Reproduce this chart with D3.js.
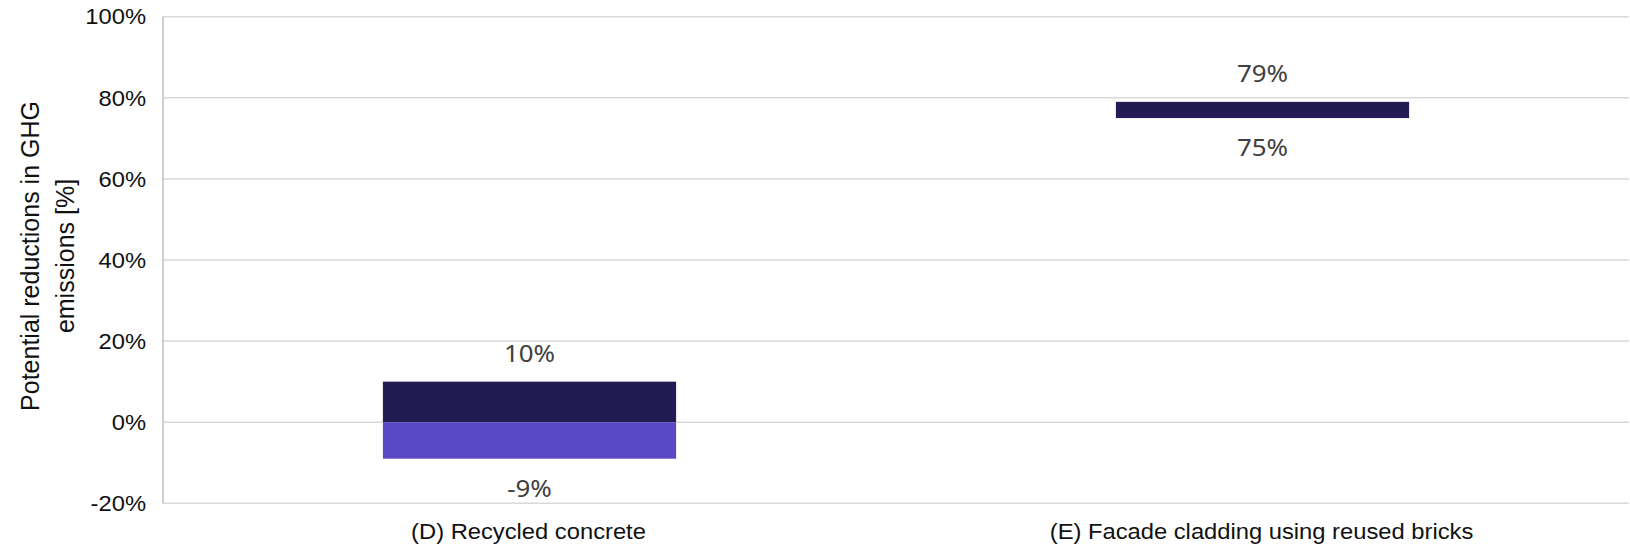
<!DOCTYPE html>
<html lang="en">
<head>
  <meta charset="UTF-8">
  <title>GHG reductions</title>
  <style>
    body { margin: 0; background: #fff; }
  </style>
</head>
<body>
<script src="https://cdn.jsdelivr.net/npm/d3@7/dist/d3.min.js"></script>
<script>
  // data
  const categories = ["(D) Recycled concrete", "(E) Facade cladding using reused bricks"]
  const highValues = [10, 79]
  const lowValues = [-9, 75]
  const yTicks = [-20, 0, 20, 40, 60, 80, 100]
  const yTitle = ["Potential reductions in GHG", "emissions [%]"]

  const width = 1630, height = 546
  const margin = {top: 16.7, right: 1, bottom: 42.7, left: 163}
  const sx = 1.08 // reference text looks stretched a bit sideways

  const svg = d3.select("body").append("svg")
    .attr("width", width)
    .attr("height", height)

  const x = d3.scaleBand()
    .domain(categories)
    .range([margin.left, width - margin.right])
    .paddingInner(0.6)
    .paddingOuter(0.3)

  const y = d3.scaleLinear()
    .domain([-20, 100])
    .range([height - margin.bottom, margin.top])

  // gridlines
  svg.append("g")
    .selectAll("line")
    .data(yTicks)
    .enter().append("line")
    .attr("x1", margin.left)
    .attr("x2", width - margin.right)
    .attr("y1", d => y(d))
    .attr("y2", d => y(d))
    .attr("stroke", "#d9d9d9")
    .attr("stroke-width", 1.5)

  // left axis line
  svg.append("line")
    .attr("x1", margin.left).attr("x2", margin.left)
    .attr("y1", y(100)).attr("y2", y(-20))
    .attr("stroke", "#bfbfbf")
    .attr("stroke-width", 1.5)

  // tick labels
  svg.append("g")
    .selectAll("text")
    .data(yTicks)
    .enter().append("text")
    .attr("transform", d => `translate(146,${y(d)}) scale(${sx},1)`)
    .attr("dy", "0.35em")
    .attr("text-anchor", "end")
    .attr("font-family", "'Liberation Sans', Arial, sans-serif")
    .attr("font-size", 22)
    .attr("fill", "#111")
    .text(d => d + "%")

  // y title
  const title = svg.append("text")
    .attr("transform", `translate(48,${(y(100) + y(-20)) / 2 - 4}) rotate(-90)`)
    .attr("text-anchor", "middle")
    .attr("font-family", "'Liberation Sans', Arial, sans-serif")
    .attr("font-size", 25)
    .attr("fill", "#111")
  title.selectAll("tspan")
    .data(yTitle)
    .enter().append("tspan")
    .attr("x", 0)
    .attr("y", (d, i) => (i - 0.5) * 35 + 8)
    .text(d => d)

  const rows = categories.map((c, i) => ({cat: c, hi: highValues[i], lo: lowValues[i]}))

  // dark part: positive range
  svg.append("g")
    .selectAll("rect")
    .data(rows.filter(d => d.hi > 0))
    .enter().append("rect")
    .attr("x", d => x(d.cat))
    .attr("width", x.bandwidth())
    .attr("y", d => y(d.hi))
    .attr("height", d => y(Math.max(d.lo, 0)) - y(d.hi))
    .attr("fill", "#231c54")

  // light part: negative range
  svg.append("g")
    .selectAll("rect")
    .data(rows.filter(d => d.lo < 0))
    .enter().append("rect")
    .attr("x", d => x(d.cat))
    .attr("width", x.bandwidth())
    .attr("y", d => y(Math.min(d.hi, 0)))
    .attr("height", d => y(d.lo) - y(Math.min(d.hi, 0)))
    .attr("fill", "#5b4ac5")

  // data labels
  const labelFont = "'Noto Sans', 'Open Sans', sans-serif"
  const labels = svg.append("g")
  labels.selectAll(".hi")
    .data(rows)
    .enter().append("text")
    .attr("transform", d => `translate(${x(d.cat) + x.bandwidth() / 2},${y(d.hi) - 28}) scale(${sx},1)`)
    .attr("dy", "0.35em")
    .attr("text-anchor", "middle")
    .attr("font-family", labelFont)
    .attr("font-size", 24)
    .attr("fill", "#404040")
    .text(d => d.hi + "%")
  labels.selectAll(".lo")
    .data(rows)
    .enter().append("text")
    .attr("transform", d => `translate(${x(d.cat) + x.bandwidth() / 2},${y(d.lo) + 30}) scale(${sx},1)`)
    .attr("dy", "0.35em")
    .attr("text-anchor", "middle")
    .attr("font-family", labelFont)
    .attr("font-size", 24)
    .attr("fill", "#404040")
    .text(d => d.lo + "%")

  // category labels
  svg.append("g")
    .selectAll("text")
    .data(categories)
    .enter().append("text")
    .attr("transform", d => `translate(${x(d) + x.bandwidth() / 2 - 1},531) scale(${sx},1)`)
    .attr("dy", "0.35em")
    .attr("text-anchor", "middle")
    .attr("font-family", "'Liberation Sans', Arial, sans-serif")
    .attr("font-size", 22)
    .attr("fill", "#111")
    .text(d => d)
</script>
</body>
</html>
